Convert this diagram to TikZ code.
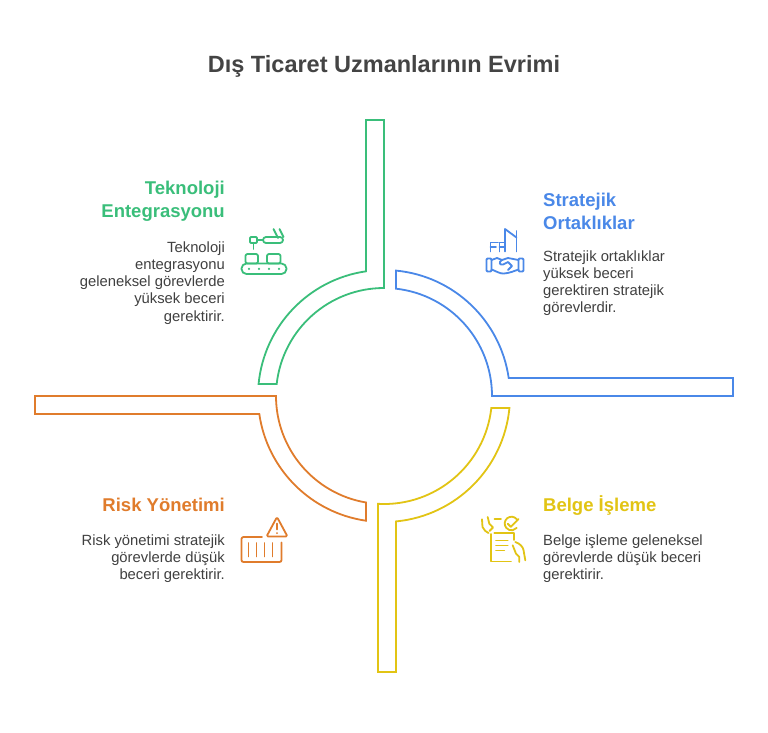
\documentclass[tikz,border=0pt]{standalone}
\usepackage{fontspec}
\setmainfont{Liberation Sans}
\usetikzlibrary{calc}
\definecolor{cgreen}{RGB}{58,190,122}
\definecolor{cblue}{RGB}{74,136,232}
\definecolor{corange}{RGB}{224,124,44}
\definecolor{cyellow}{RGB}{226,196,20}
\definecolor{ctitle}{RGB}{68,68,68}
\definecolor{cbody}{RGB}{64,64,64}
\begin{document}
\begin{tikzpicture}[x=1pt,y=-1pt,
  band/.style={line width=1.8pt, line join=miter},
  ico/.style={line width=1.8pt, line cap=round, line join=round},
  head/.style={font=\fontsize{18.5}{22}\selectfont\bfseries, inner sep=0},
  body/.style={font=\fontsize{14.8}{17}\selectfont, text=cbody, inner sep=0}]
\useasboundingbox[fill=white] (0,0) rectangle (768,732);
\coordinate (C) at (384,396);

% title
\node[font=\fontsize{23.5}{28}\selectfont\bfseries, text=ctitle, inner sep=0, anchor=base] (title) at (384,72) {Dış Ticaret Uzmanlarının Evrimi};

% green band
\draw[band, cgreen] (366,120) -- (384,120) -- (384,288)
  arc[start angle=-90, end angle=-173.62, radius=108]
  -- ($(C)+(-174.535:126)$) arc[start angle=-174.535, end angle=-98.213, radius=126] -- cycle;
% blue band
\draw[band, cblue] ($(C)+(-84.535:126)$) arc[start angle=-84.535, end angle=-8.213, radius=126]
  -- (733,378) -- (733,396) -- (492,396)
  arc[start angle=0, end angle=-83.62, radius=108] -- cycle;
% yellow band
\draw[band, cyellow] ($(C)+(5.465:126)$) arc[start angle=5.465, end angle=84.535, radius=126]
  -- (396,672) -- (378,672) -- ($(C)+(93.185:108)$)
  arc[start angle=93.185, end angle=6.38, radius=108] -- cycle;
% orange band
\draw[band, corange] (35,396) -- (276,396)
  arc[start angle=180, end angle=99.594, radius=108]
  -- ($(C)+(98.213:126)$) arc[start angle=98.213, end angle=171.787, radius=126]
  -- (35,414) -- cycle;

% headings
\node[head, text=cgreen, anchor=base east] (gh1) at (225,194) {Teknoloji};
\node[head, text=cgreen, anchor=base east] (gh2) at (225,217) {Entegrasyonu};
\node[head, text=cblue, anchor=base west] (bh1) at (543,206.5) {Stratejik};
\node[head, text=cblue, anchor=base west] (bh2) at (543,229) {Ortaklıklar};
\node[head, text=corange, anchor=base east] (oh1) at (225,511) {Risk Yönetimi};
\node[head, text=cyellow, anchor=base west] (yh1) at (543,511) {Belge İşleme};

% body texts
\foreach \t [count=\i] in {Teknoloji,entegrasyonu,geleneksel görevlerde,yüksek beceri,gerektirir.}
  \node[body, anchor=base east] (gb\i) at (225,{252+17.3*(\i-1)}) {\t};
\foreach \t [count=\i] in {Stratejik ortaklıklar,yüksek beceri,gerektiren stratejik,görevlerdir.}
  \node[body, anchor=base west] (bb\i) at (543,{261+17*(\i-1)}) {\t};
\foreach \t [count=\i] in {Risk yönetimi stratejik,görevlerde düşük,beceri gerektirir.}
  \node[body, anchor=base east] (ob\i) at (225,{545+17*(\i-1)}) {\t};
\foreach \t [count=\i] in {Belge işleme geleneksel,görevlerde düşük beceri,gerektirir.}
  \node[body, anchor=base west] (yb\i) at (543,{545+17*(\i-1)}) {\t};

% green icon: robot arm and conveyor
\begin{scope}[ico, cgreen]
  \draw[rounded corners=1] (250,237) rectangle (257,243);
  \draw (253.5,243) -- (253.5,249);
  \draw (257,240) -- (263,240);
  \draw[rounded corners=3] (263,237) rectangle (283,243);
  \draw (273.5,229) -- (278,238);
  \draw (279.5,229) -- (283.5,237);
  \draw[rounded corners=2] (245.5,254) rectangle (258,263.5);
  \draw[rounded corners=2] (267,254) rectangle (280.5,263.5);
  \draw[rounded corners=5] (241.5,263.5) rectangle (286.5,274);
  \foreach \x in {249,259,269,279} \fill (\x,268.8) circle[radius=1.2];
\end{scope}

% blue icon: buildings and handshake
\begin{scope}[ico, cblue]
  \draw (505,251.5) -- (505,229) -- (516.5,237.5);
  \draw (516.5,231) -- (516.5,251.5);
  \draw (490.5,251.5) -- (490.5,242.5) -- (498,242.5);
  \draw (490.5,247) -- (496,247);
  \draw (499.5,251.5) -- (499.5,242.5) -- (505,242.5);
  \draw (499.5,247) -- (504,247);
  \draw[rounded corners=1] (486.5,258.5) rectangle (491.5,271.5);
  \draw[rounded corners=1] (518.5,258.5) rectangle (523.5,271.5);
  \draw (491.5,260) -- (497,258) -- (502,260) -- (508,258) -- (518.5,260);
  \draw (491.5,269.5) .. controls (496,271) and (500,274) .. (504,273.5)
        .. controls (510,273) and (514,271) .. (518.5,269.5);
  \draw (502,260) .. controls (498,262) and (500,265.5) .. (503,264.5) -- (508,262) -- (512,266) -- (508,270);
\end{scope}

% orange icon: container with warning
\begin{scope}[ico, corange]
  \draw[rounded corners=2] (262,537) -- (241.5,537) -- (241.5,562) -- (281.5,562) -- (281.5,542.5);
  \foreach \x in {248.5,256.5,264.5,272.5} \draw (\x,543) -- (\x,556.5);
  \draw[rounded corners=1.5] (277,517) -- (287.5,536.5) -- (266.5,536.5) -- cycle;
  \draw (277,523.5) -- (277,529.5);
  \fill (277,533) circle[radius=1];
\end{scope}

% yellow icon: document with hands and check
\begin{scope}[ico, cyellow]
  \draw (494.5,518.7) -- (501,518.7);
  \draw ($(511.5,523.5)+(-40:6.8)$) arc[start angle=-40, end angle=-320, radius=6.8];
  \draw (507.8,523.8) -- (510.8,526.8) -- (518.5,519);
  \draw (482,519.3) -- (482.5,527) .. controls (484,530) and (486,532) .. (488.5,533);
  \draw (487.7,517) -- (489.3,523.7) -- (493,527.5) -- (489.5,531);
  \draw (491,534) -- (491,561.5) -- (511,561.5);
  \draw (494.3,532.7) -- (514.3,532.7) -- (514.3,540);
  \draw (496,540.5) -- (507.7,540.5);
  \draw (496,545.5) -- (507.7,545.5);
  \draw (496,550.5) -- (504.3,550.5);
  \draw (515.3,542) .. controls (520,543.5) and (523,547) .. (523.5,550) -- (525.3,560.3);
  \draw (512.7,545.3) -- (516,553.7) -- (519.3,557) -- (519.3,562);
\end{scope}
\end{tikzpicture}
\end{document}
